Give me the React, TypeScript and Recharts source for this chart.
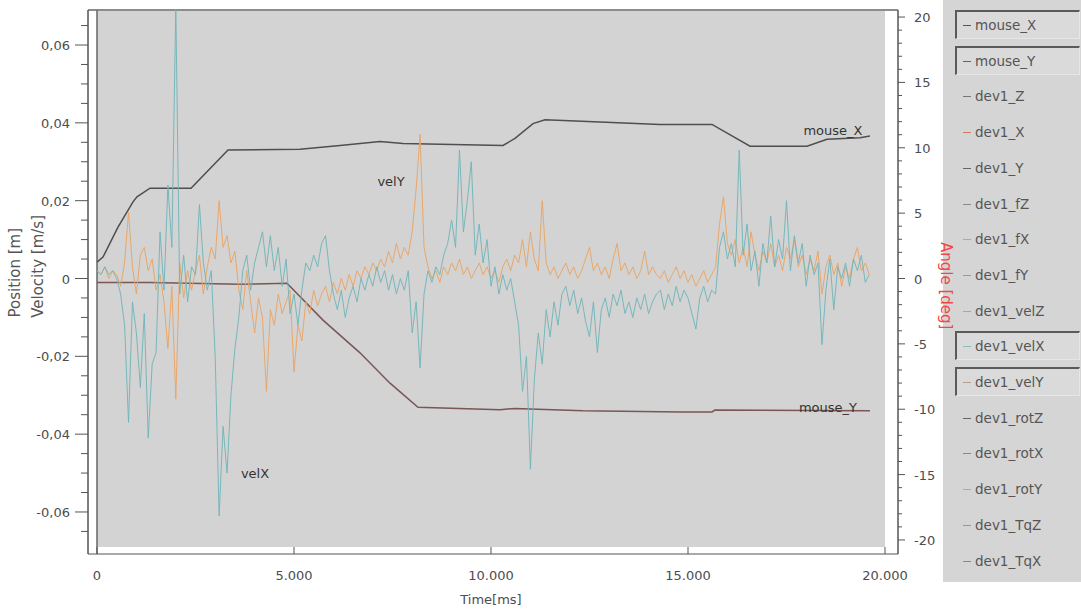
import {
  Line,
  LineChart,
  ReferenceArea,
  ReferenceDot,
  ReferenceLine,
  XAxis,
  YAxis,
} from "recharts"

const FONT = '"DejaVu Sans", Verdana, sans-serif'
const INK = "#4d4d4d"

// dev1 velocity, one sample every 100 ms, in mm/s
const SAMPLE_MS = 100
const velXmm = [
  2, 1, 3, 1, 2, 0, -4, -12, -37, -6,
  -14, -28, -9, -41, -22, -19, 12, -3, 24, 8,
  70, -4, 6, -6, 3, 1, 19, 4, -3, 2,
  -20, -61, -38, -50, -30, -18, -10, 2, 6, -3,
  4, 8, 12, 3, 11, 2, 8, -2, 5, -9,
  -4, -12, -3, 4, 2, 6, 3, 9, 11, 2,
  -4, -8, -3, -10, -5, -2, -6, 0, -3, 1,
  -2, 3, -1, 2, -3, 1, -4, 0, -3, 2,
  -14, -6, -23, -4, 2, -1, 3, 1, 6, 9,
  15, 8, 33, 12, 20, 30, 6, 14, 4, 10,
  -2, 3, -4, 1, -3, 0, -6, -12, -29, -20,
  -49, -26, -14, -22, -8, -15, -6, -12, -4, -2,
  -7, -3, -9, -5, -11, -15, -6, -19, -8, -5,
  -10, -4, -7, -3, -9, -6, -10, -5, -8, -4,
  -9, -6, -4, -3, -8, -4, -7, -2, -6, -3,
  -5, -9, -13, -5, -2, -6, -3, -4, 8, 12,
  5, 9, 3, 33, 6, 14, 2, 7, -2, 9,
  4, 16, 3, 10, 5, 20, 2, 11, 4, 9,
  -2, 6, 1, 4, -17, -3, 5, -8, 3, 0,
  4, -2, 5, 2, 6, -1, 1,
]
const velYmm = [
  2, 1, 3, 0, 2, 1, -2, 4, 17, 3,
  -4, 6, 8, 2, 5, -3, 1, -6, -18, -2,
  -31, 4, -5, 2, -3, 2, 6, -4, 3, 8,
  5, 20, 8, 11, 4, 7, -3, -8, 2, -6,
  -14, -5, -10, -29, -8, -12, -4, -9, -6, -3,
  -24, -12, -16, -6, -9, -3, -7, -4, -2, -6,
  -1, -4, 0, -3, 1, -2, 2, 0, 3, 1,
  4, 2, 5, 3, 7, 4, 9, 5, 8, 6,
  12, 23, 37, 8, 3, 0, 2, -1, 3, 1,
  4, 2, 5, 1, 3, 0, 2, 4, 1, 3,
  0, 2, -1, 3, 5, 2, 6, 4, 10, 3,
  12, 5, 2, 20, 4, 1, 3, 0, 2, 4,
  1, 3, 0, 2, 5, 8, 2, 4, 1, 3,
  0, 5, 9, 2, 4, 1, 3, 0, 2, 7,
  1, 3, 1, 0, 2, -1, 1, 3, 0, 2,
  -1, 1, -2, 0, 2, -1, 1, 3, 14, 21,
  9, 6, 10, 4, 8, 3, 12, 6, 2, 7,
  4, 9, 3, 6, 2, 8, 5, 10, 3, 6,
  1, 5, 2, 7, -4, 3, 6, 1, 4, -2,
  3, 0, 5, 8, 2, 4, 1,
]

// mouse position (m), sampled where the trace changes slope
const mouseXTime = [
  0, 152, 533, 914, 1015, 1345, 2386, 3325, 5152, 6168, 7183, 7766,
  10305, 10609, 11066, 11371, 12766, 14289, 15609, 16574, 18020, 18528,
  19365, 19619,
]
const mouseXPos = [
  0.0042, 0.0055, 0.0132, 0.0197, 0.021, 0.0232, 0.0232, 0.033, 0.0332,
  0.0342, 0.0352, 0.0347, 0.0342, 0.036, 0.0398, 0.0408, 0.0402, 0.0396,
  0.0396, 0.034, 0.034, 0.0358, 0.0362, 0.0366,
]
const mouseYTime = [
  0, 1345, 3629, 4822, 5736, 6675, 7437, 8147, 10228, 10609, 11574, 12335,
  14797, 15609, 15685, 19619,
]
const mouseYPos = [
  -0.001, -0.001, -0.0015, -0.0012, -0.0107, -0.0191, -0.0269, -0.0331,
  -0.0337, -0.0334, -0.0337, -0.034, -0.0343, -0.0343, -0.0338, -0.034,
]

const timeTicks = [0, 5000, 10000, 15000, 20000]
const positionTicks = Array.from({ length: 27 }, (_, k) => (k - 13) * 0.005)
const angleTicks = Array.from({ length: 41 }, (_, k) => k - 20)

const legendNames = [
  "mouse_X", "mouse_Y", "dev1_Z", "dev1_X", "dev1_Y", "dev1_fZ", "dev1_fX",
  "dev1_fY", "dev1_velZ", "dev1_velX", "dev1_velY", "dev1_rotZ", "dev1_rotX",
  "dev1_rotY", "dev1_TqZ", "dev1_TqX",
]
const legendColors = [
  "#555", "#7a5656", "#777", "#d07a5a", "#666", "#8a8a8a", "#a9a9a9",
  "#999", "#d89090", "#8bbcbe", "#b0a090", "#666", "#888", "#aaa",
  "#c48080", "#888",
]
const legendSelected = ["mouse_X", "mouse_Y", "dev1_velX", "dev1_velY"]

const velXRows = velXmm.map((v, i) => ({ t: i * SAMPLE_MS, v: v / 1000 }))
const velYRows = velYmm.map((v, i) => ({ t: i * SAMPLE_MS, v: v / 1000 }))
const mouseXRows = mouseXTime.map((t, i) => ({ t, v: mouseXPos[i] }))
const mouseYRows = mouseYTime.map((t, i) => ({ t, v: mouseYPos[i] }))

const POS_LIMIT = 0.069
const ANGLE_LIMIT = 20.54

function PositionTick({ x, y, payload }: any) {
  const milli = Math.round(payload.value * 1000)
  const major = milli % 20 === 0
  const axisX = x + 18
  return (
    <g>
      <line x1={axisX - (major ? 13 : 7)} x2={axisX} y1={y} y2={y} stroke="#555" />
      {major && (
        <text x={x} y={y} dy={5} textAnchor="end" fill={INK} fontSize={13} fontFamily={FONT}>
          {milli === 0 ? "0" : (milli / 1000).toFixed(2).replace(".", ",")}
        </text>
      )}
    </g>
  )
}

function AngleTick({ x, y, payload }: any) {
  const v = payload.value
  const major = v % 5 === 0
  const axisX = x - 16
  return (
    <g>
      <line x1={axisX} x2={axisX + (major ? 7 : 4)} y1={y} y2={y} stroke="#555" />
      {major && (
        <text x={x} y={y} dy={5} textAnchor="start" fill={INK} fontSize={13} fontFamily={FONT}>
          {v}
        </text>
      )}
    </g>
  )
}

function TimeTick({ x, y, payload }: any) {
  const v = payload.value
  return (
    <g>
      <line x1={x} x2={x} y1={y} y2={y - 7} stroke="#555" />
      <text x={x} y={y + 26} textAnchor="middle" fill={INK} fontSize={13} fontFamily={FONT}>
        {v === 0 ? "0" : `${v / 1000}.000`}
      </text>
    </g>
  )
}

function tag(text: string) {
  return (p: any) => (
    <text x={p.cx} y={p.cy} dy={5} textAnchor="middle" fill="#333" fontSize={13} fontFamily={FONT}>
      {text}
    </text>
  )
}

function SignalLegend() {
  return (
    <div
      style={{
        position: "absolute",
        left: 943,
        top: 0,
        width: 138,
        height: 582,
        background: "#d5d5d5",
        fontFamily: FONT,
        fontSize: 13.5,
        color: "#555",
      }}
    >
      {legendNames.map((name, i) => {
        const cy = 25 + i * 35.7
        const selected = legendSelected.includes(name)
        return (
          <div key={name}>
            {selected && (
              <div
                style={{
                  position: "absolute",
                  left: 12,
                  top: cy - 15,
                  width: 122,
                  height: 26,
                  background: "#dadada",
                  borderTop: "2px solid #5a5a5a",
                  borderLeft: "2px solid #5a5a5a",
                  borderRight: "1px solid #e6e6e6",
                  borderBottom: "1px solid #e6e6e6",
                }}
              />
            )}
            <div
              style={{
                position: "absolute",
                left: 20,
                top: cy,
                width: 8,
                height: 1,
                background: legendColors[i],
              }}
            />
            <div
              style={{
                position: "absolute",
                left: 32,
                top: cy - 9,
                lineHeight: "18px",
                whiteSpace: "nowrap",
              }}
            >
              {name}
            </div>
          </div>
        )
      })}
    </div>
  )
}

const verticalTitle = {
  position: "absolute" as const,
  writingMode: "vertical-rl" as const,
  transform: "rotate(180deg)",
  fontFamily: FONT,
  fontSize: 15,
  lineHeight: "16px",
  color: "#555",
  whiteSpace: "nowrap" as const,
}

export default function App() {
  return (
    <div
      style={{
        position: "absolute",
        left: 0,
        top: 0,
        width: 1081,
        height: 612,
        background: "#fff",
        overflow: "hidden",
      }}
    >
      <LineChart width={960} height={612} margin={{ top: 10, right: 0, bottom: 0, left: 0 }}>
        <XAxis
          xAxisId={0}
          dataKey="t"
          type="number"
          domain={[0, 20000]}
          ticks={timeTicks}
          interval={0}
          padding={{ left: 9, right: 13 }}
          height={58}
          tickSize={0}
          tickMargin={0}
          tickLine={false}
          axisLine={{ stroke: "#555" }}
          tick={(p: any) => <TimeTick {...p} />}
        />
        <YAxis
          yAxisId="pos"
          orientation="left"
          type="number"
          width={88}
          domain={[-POS_LIMIT, POS_LIMIT]}
          allowDataOverflow
          ticks={positionTicks}
          interval={0}
          padding={{ top: 0, bottom: 7 }}
          tickSize={14}
          tickMargin={4}
          tickLine={false}
          axisLine={{ stroke: "#555", strokeWidth: 1.5 }}
          tick={(p: any) => <PositionTick {...p} />}
        />
        <YAxis
          yAxisId="angle"
          orientation="right"
          type="number"
          width={62}
          domain={[-ANGLE_LIMIT, ANGLE_LIMIT]}
          allowDataOverflow
          ticks={angleTicks}
          interval={0}
          padding={{ top: 0, bottom: 7 }}
          tickSize={7}
          tickMargin={9}
          tickLine={false}
          axisLine={{ stroke: "#555", strokeWidth: 1.5 }}
          tick={(p: any) => <AngleTick {...p} />}
        />

        <ReferenceArea
          yAxisId="pos"
          x1={0}
          x2={20000}
          y1={-POS_LIMIT}
          y2={POS_LIMIT}
          fill="#d3d3d3"
          fillOpacity={1}
          stroke="none"
        />
        <ReferenceLine yAxisId="pos" y={POS_LIMIT} stroke="#8c8c8c" strokeWidth={2} />
        <ReferenceLine yAxisId="pos" x={0} stroke="#666" strokeWidth={1.5} />

        <Line
          yAxisId="pos"
          data={mouseXRows}
          dataKey="v"
          stroke="#4f4f4f"
          strokeWidth={1.5}
          dot={false}
          isAnimationActive={false}
        />
        <Line
          yAxisId="pos"
          data={mouseYRows}
          dataKey="v"
          stroke="#7a5656"
          strokeWidth={1.5}
          dot={false}
          isAnimationActive={false}
        />
        <Line
          yAxisId="pos"
          data={velYRows}
          dataKey="v"
          stroke="#eaa464"
          strokeWidth={1}
          strokeOpacity={0.95}
          dot={false}
          isAnimationActive={false}
        />
        <Line
          yAxisId="pos"
          data={velXRows}
          dataKey="v"
          stroke="#72b5b9"
          strokeWidth={1}
          strokeOpacity={0.95}
          dot={false}
          isAnimationActive={false}
        />

        <ReferenceDot yAxisId="pos" x={18680} y={0.0382} r={1} shape={tag("mouse_X")} />
        <ReferenceDot yAxisId="pos" x={18553} y={-0.033} r={1} shape={tag("mouse_Y")} />
        <ReferenceDot yAxisId="pos" x={7462} y={0.0251} r={1} shape={tag("velY")} />
        <ReferenceDot yAxisId="pos" x={4010} y={-0.05} r={1} shape={tag("velX")} />
      </LineChart>

      <SignalLegend />

      <div style={{ ...verticalTitle, left: 7, bottom: 295 }}>Position [m]</div>
      <div style={{ ...verticalTitle, left: 30, bottom: 294 }}>Velocity [m/s]</div>
      <div
        style={{
          position: "absolute",
          left: 938,
          top: 242,
          writingMode: "vertical-rl",
          fontFamily: FONT,
          fontSize: 15,
          lineHeight: "15px",
          color: "#f04848",
          whiteSpace: "nowrap",
        }}
      >
        Angle [deg]
      </div>
      <div
        style={{
          position: "absolute",
          left: 441,
          top: 592,
          width: 100,
          textAlign: "center",
          fontFamily: FONT,
          fontSize: 13,
          color: INK,
        }}
      >
        Time[ms]
      </div>
    </div>
  )
}
